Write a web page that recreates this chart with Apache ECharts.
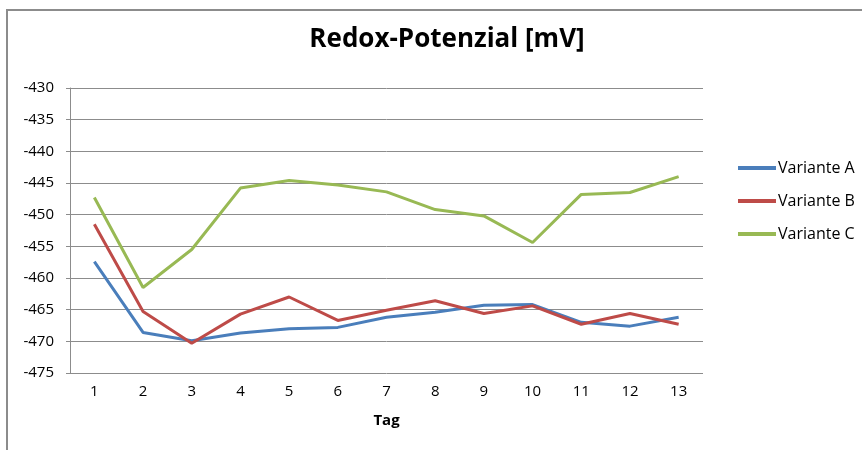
<!DOCTYPE html>
<html>
<head>
<meta charset="utf-8">
<script src="https://cdn.jsdelivr.net/npm/echarts@6/dist/echarts.min.js"></script>
<style>
html,body{margin:0;padding:0;background:#fff;}
#chart{width:862px;height:450px;position:relative;}
.frame{position:absolute;left:6px;top:9px;right:0;bottom:0;border-left:2px solid #8c8c8c;border-top:2px solid #8c8c8c;pointer-events:none;}
</style>
</head>
<body>
<div style="position:relative;width:862px;height:450px;">
    <div id="chart"></div>
    <div class="frame"></div>
</div>
<script>
// Tage
var days = ['1','2','3','4','5','6','7','8','9','10','11','12','13'];
var seriesNames = ['Variante A','Variante B','Variante C'];
var variantA = [-457.4,-468.6,-469.9,-468.7,-468.0,-467.8,-466.2,-465.4,-464.3,-464.2,-467.0,-467.6,-466.2];
var variantB = [-451.5,-465.3,-470.3,-465.7,-463.0,-466.7,-465.1,-463.6,-465.6,-464.4,-467.3,-465.6,-467.3];
var variantC = [-447.3,-461.5,-455.5,-445.8,-444.6,-445.3,-446.4,-449.2,-450.2,-454.4,-446.8,-446.5,-444.0];
var colors = ['#4a7ebb','#be4b48','#98b954'];

var chart = echarts.init(document.getElementById('chart'))
var font = '"Open Sans", sans-serif'
var options = {
    animation:false,
    color:colors,
    title:{
        text:'Redox-Potenzial [mV]',
        left:442,
        textAlign:'center',
        top:22,
        textStyle:{fontFamily:font,fontSize:26,fontWeight:'bold',color:'#000'}
    },
    legend:{
        orient:'vertical',
        left:733,
        top:155,
        itemWidth:38,
        itemHeight:4,
        itemGap:17,
        icon:'rect',
        textStyle:{fontFamily:font,fontSize:16,color:'#000',padding:[0,0,0,-3]},
        data:seriesNames
    },
    grid:{left:70,right:159,top:88,bottom:77,containLabel:false},
    xAxis:{
        type:'category',
        data:days,
        name:'Tag',
        nameLocation:'middle',
        nameGap:40,
        nameTextStyle:{fontFamily:font,fontSize:15,fontWeight:'bold',color:'#000'},
        axisLine:{show:false},
        axisTick:{show:false},
        axisLabel:{fontFamily:font,fontSize:15,color:'#000',margin:11}
    },
    yAxis:{
        type:'value',
        min:-475,
        max:-430,
        interval:5,
        axisLine:{show:true,lineStyle:{color:'#8c8c8c',width:1}},
        axisTick:{show:true,length:4,lineStyle:{color:'#8c8c8c'}},
        axisLabel:{fontFamily:font,fontSize:15,color:'#000',margin:16},
        splitLine:{lineStyle:{color:'#8c8c8c',width:1}}
    },
    series:[
        {name:seriesNames[0],type:'line',data:variantA,symbol:'none',lineStyle:{width:3}},
        {name:seriesNames[1],type:'line',data:variantB,symbol:'none',lineStyle:{width:3}},
        {name:seriesNames[2],type:'line',data:variantC,symbol:'none',lineStyle:{width:3}}
    ]
}
chart.setOption(options)
</script>
</body>
</html>
